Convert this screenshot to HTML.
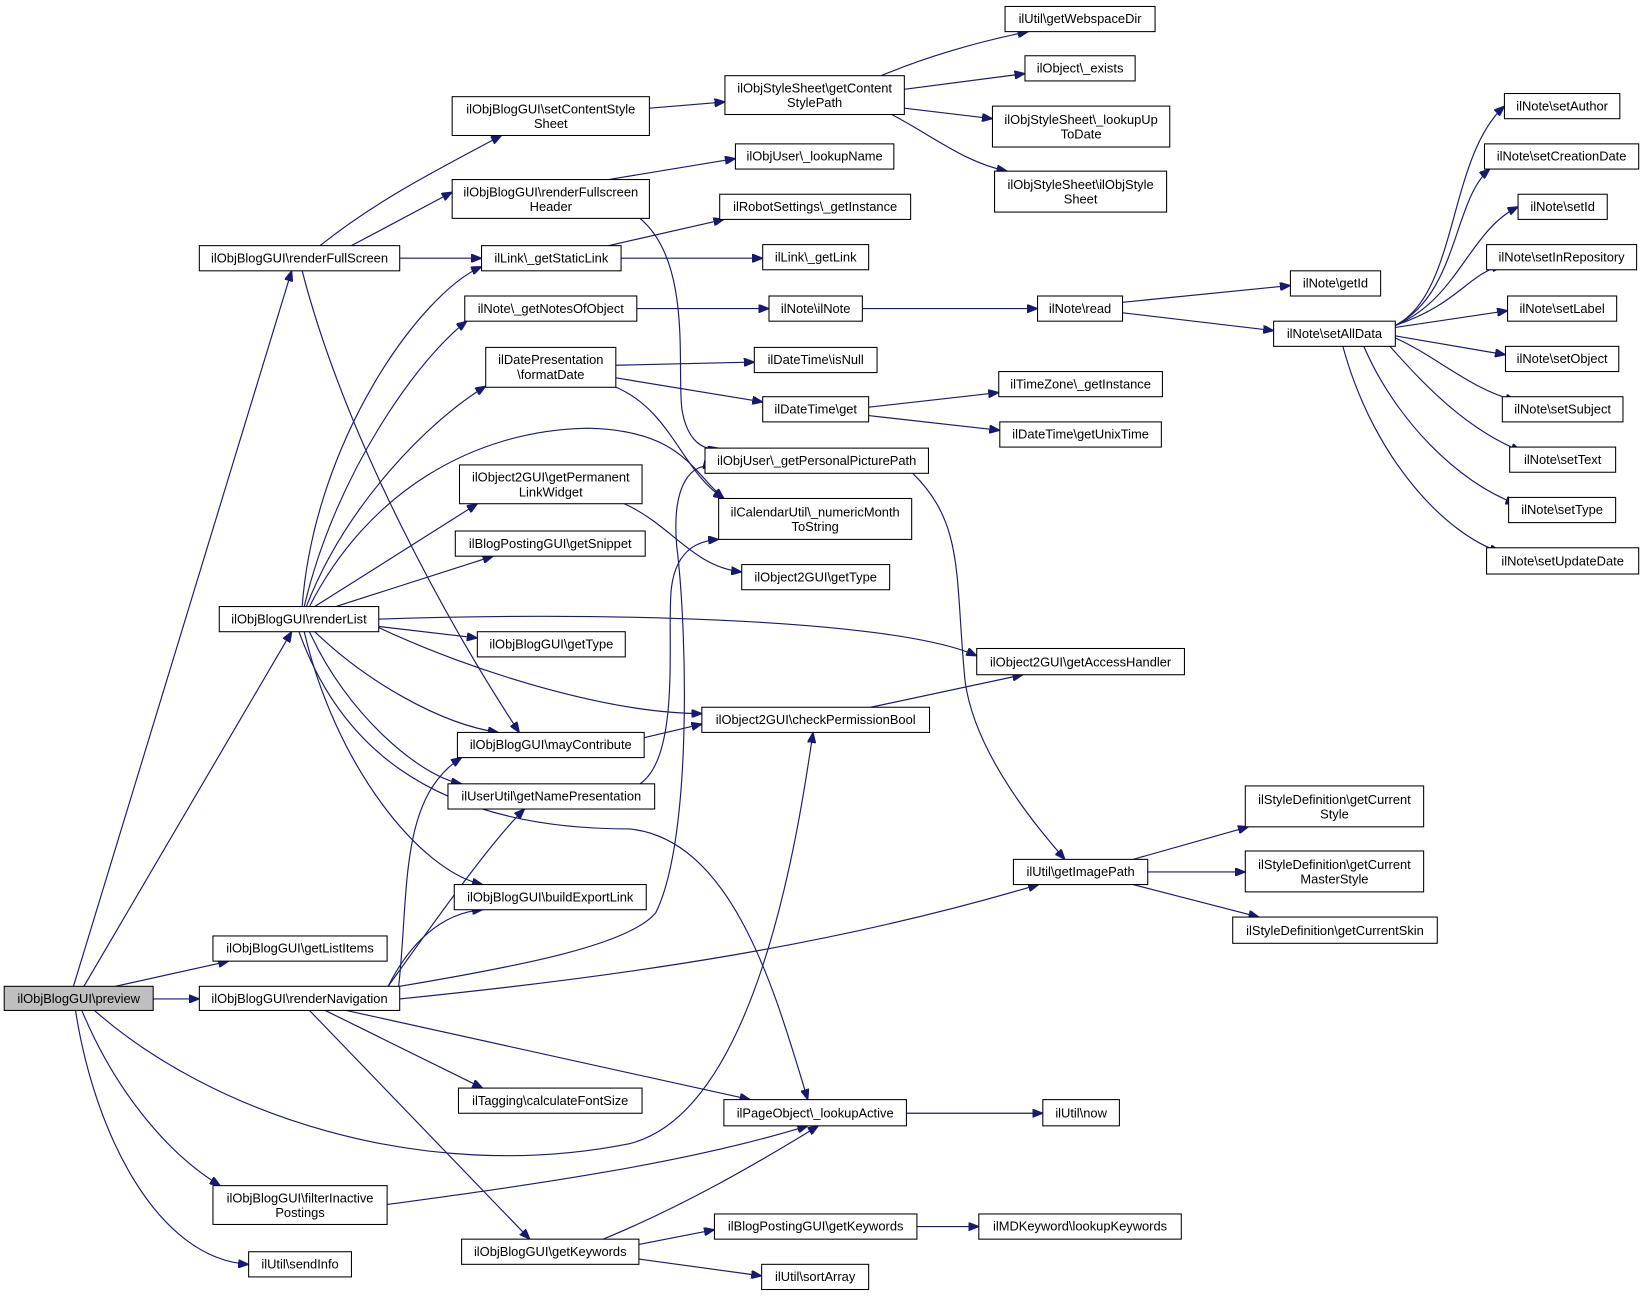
<!DOCTYPE html>
<html><head><meta charset="utf-8"><style>
html,body{margin:0;padding:0;background:#fff;}
svg{display:block;}
text{font-family:"Liberation Sans",sans-serif;font-size:12.3px;fill:#000;text-anchor:middle;}
rect{fill:#fff;stroke:#000;stroke-width:1;}
path{fill:none;stroke:#191970;stroke-width:1.1;}
</style></head><body>
<svg width="1645" height="1297" viewBox="0 0 1568 1236" xmlns="http://www.w3.org/2000/svg">
<defs><marker id="a" markerUnits="userSpaceOnUse" markerWidth="11" markerHeight="8" refX="10" refY="4" orient="auto"><path d="M0,0 L10,4 L0,8 Z" style="fill:#191970;stroke:#191970"/></marker></defs>
<g marker-end="url(#a)">
<path d="M70,940 L278,258"/>
<path d="M80,940 L278,602"/>
<path d="M110,940 L218,916"/>
<path d="M146,952 L190,952"/>
<path d="M90,963 C200,1060 400,1130 600,1090 C720,1060 760,800 775,698"/>
<path d="M78,963 C110,1040 160,1100 210,1130"/>
<path d="M72,963 C90,1080 150,1200 237,1205"/>
<path d="M305,234 C360,190 420,160 478,129"/>
<path d="M335,234 L431,183"/>
<path d="M381,246 L459,246"/>
<path d="M288,258 C330,420 430,600 495,698"/>
<path d="M288,578 C300,420 400,280 459,254"/>
<path d="M290,578 C320,450 400,340 445,306"/>
<path d="M292,578 C330,480 410,400 463,368"/>
<path d="M295,578 C350,470 450,410 560,408 C650,410 660,450 690,475"/>
<path d="M300,578 L455,480"/>
<path d="M320,578 L470,530"/>
<path d="M361,590 C550,583 850,588 931,625"/>
<path d="M361,597 L455,608"/>
<path d="M361,598 C450,640 580,680 669,680"/>
<path d="M300,602 C350,650 420,690 475,698"/>
<path d="M295,602 C330,680 400,740 440,747"/>
<path d="M290,602 C320,730 400,830 460,843"/>
<path d="M285,602 C320,700 400,790 600,790 C700,800 740,950 770,1048"/>
<path d="M380,940 C390,850 380,760 440,722"/>
<path d="M370,940 C420,870 470,800 500,771"/>
<path d="M370,940 C390,900 420,870 460,867"/>
<path d="M381,940 C500,920 600,900 625,870 C660,800 655,600 645,520 C640,460 660,440 680,445"/>
<path d="M381,952 C600,930 800,900 990,843"/>
<path d="M310,963 L460,1037"/>
<path d="M330,963 L715,1048"/>
<path d="M295,963 L505,1181"/>
<path d="M580,171 L701,151"/>
<path d="M610,208 C660,250 645,350 650,390 C655,420 670,430 685,427"/>
<path d="M580,234 L690,209"/>
<path d="M592,246 L727,246"/>
<path d="M607,294 L733,294"/>
<path d="M822,294 L989,294"/>
<path d="M1070,288 L1230,272"/>
<path d="M1070,298 L1214,315"/>
<path d="M587,348 L719,345"/>
<path d="M587,360 L727,383"/>
<path d="M585,368 C640,390 650,450 690,475"/>
<path d="M828,388 L952,374"/>
<path d="M828,396 L953,410"/>
<path d="M870,451 C920,500 910,550 920,650 C930,720 990,790 1015,819"/>
<path d="M595,480 C640,500 660,540 707,545"/>
<path d="M610,747 C650,720 635,600 640,560 C645,520 670,515 685,514"/>
<path d="M614,703 L669,690"/>
<path d="M830,674 L975,643"/>
<path d="M1080,819 L1190,788"/>
<path d="M1094,831 L1187,831"/>
<path d="M1080,843 L1200,874"/>
<path d="M864,1061 L994,1061"/>
<path d="M369,1148 C500,1130 650,1110 770,1073"/>
<path d="M575,1181 C650,1150 720,1110 780,1073"/>
<path d="M609,1186 L681,1172"/>
<path d="M609,1200 L726,1216"/>
<path d="M874,1169 L933,1169"/>
<path d="M619,103 L691,97"/>
<path d="M840,72 C880,55 930,40 980,30"/>
<path d="M862,85 L977,70"/>
<path d="M862,103 L946,113"/>
<path d="M850,109 C890,130 920,155 960,163"/>
<path d="M1330,310 C1390,280 1380,150 1434,101"/>
<path d="M1330,310 C1390,280 1385,190 1420,161"/>
<path d="M1330,310 C1390,285 1400,220 1447,197"/>
<path d="M1330,310 C1390,290 1400,260 1432,253"/>
<path d="M1330,312 L1437,296"/>
<path d="M1330,320 L1435,338"/>
<path d="M1330,322 C1370,340 1400,370 1445,382"/>
<path d="M1325,330 C1360,370 1400,410 1450,430"/>
<path d="M1300,330 C1330,400 1390,460 1445,480"/>
<path d="M1280,330 C1310,440 1380,510 1430,526"/>
</g>
<rect x="4" y="940" width="142" height="23" style="fill:#bfbfbf"/><text x="75" y="956">ilObjBlogGUI\preview</text>
<rect x="190" y="234" width="191" height="24"/><text x="285.5" y="250">ilObjBlogGUI\renderFullScreen</text>
<rect x="209" y="578" width="152" height="24"/><text x="285" y="594">ilObjBlogGUI\renderList</text>
<rect x="203" y="892" width="166" height="24"/><text x="286" y="908">ilObjBlogGUI\getListItems</text>
<rect x="190" y="940" width="191" height="23"/><text x="285.5" y="956">ilObjBlogGUI\renderNavigation</text>
<rect x="203" y="1130" width="166" height="37"/><text x="286" y="1146">ilObjBlogGUI\filterInactive</text><text x="286" y="1160">Postings</text>
<rect x="237" y="1193" width="98" height="24"/><text x="286" y="1209">ilUtil\sendInfo</text>
<rect x="431" y="92" width="188" height="37"/><text x="525" y="108">ilObjBlogGUI\setContentStyle</text><text x="525" y="122">Sheet</text>
<rect x="431" y="171" width="188" height="37"/><text x="525" y="187">ilObjBlogGUI\renderFullscreen</text><text x="525" y="201">Header</text>
<rect x="459" y="234" width="133" height="24"/><text x="525.5" y="250">ilLink\_getStaticLink</text>
<rect x="443" y="282" width="164" height="24"/><text x="525" y="298">ilNote\_getNotesOfObject</text>
<rect x="463" y="331" width="124" height="38"/><text x="525" y="347">ilDatePresentation</text><text x="525" y="361">\formatDate</text>
<rect x="438" y="443" width="174" height="37"/><text x="525" y="459">ilObject2GUI\getPermanent</text><text x="525" y="473">LinkWidget</text>
<rect x="434" y="506" width="181" height="24"/><text x="524.5" y="522">ilBlogPostingGUI\getSnippet</text>
<rect x="455" y="602" width="141" height="24"/><text x="525.5" y="618">ilObjBlogGUI\getType</text>
<rect x="436" y="698" width="178" height="24"/><text x="525" y="714">ilObjBlogGUI\mayContribute</text>
<rect x="427" y="747" width="197" height="24"/><text x="525.5" y="763">ilUserUtil\getNamePresentation</text>
<rect x="433" y="843" width="183" height="24"/><text x="524.5" y="859">ilObjBlogGUI\buildExportLink</text>
<rect x="437" y="1037" width="175" height="24"/><text x="524.5" y="1053">ilTagging\calculateFontSize</text>
<rect x="440" y="1181" width="169" height="24"/><text x="524.5" y="1197">ilObjBlogGUI\getKeywords</text>
<rect x="691" y="72" width="171" height="37"/><text x="776.5" y="88">ilObjStyleSheet\getContent</text><text x="776.5" y="102">StylePath</text>
<rect x="701" y="137" width="151" height="24"/><text x="776.5" y="153">ilObjUser\_lookupName</text>
<rect x="686" y="185" width="182" height="24"/><text x="777" y="201">ilRobotSettings\_getInstance</text>
<rect x="727" y="233" width="101" height="24"/><text x="777.5" y="249">ilLink\_getLink</text>
<rect x="733" y="282" width="89" height="24"/><text x="777.5" y="298">ilNote\ilNote</text>
<rect x="719" y="331" width="117" height="24"/><text x="777.5" y="347">ilDateTime\isNull</text>
<rect x="727" y="378" width="101" height="24"/><text x="777.5" y="394">ilDateTime\get</text>
<rect x="672" y="427" width="213" height="24"/><text x="778.5" y="443">ilObjUser\_getPersonalPicturePath</text>
<rect x="685" y="475" width="184" height="39"/><text x="777" y="492">ilCalendarUtil\_numericMonth</text><text x="777" y="506">ToString</text>
<rect x="707" y="538" width="141" height="24"/><text x="777.5" y="554">ilObject2GUI\getType</text>
<rect x="669" y="674" width="217" height="24"/><text x="777.5" y="690">ilObject2GUI\checkPermissionBool</text>
<rect x="690" y="1048" width="174" height="25"/><text x="777" y="1065">ilPageObject\_lookupActive</text>
<rect x="681" y="1157" width="193" height="24"/><text x="777.5" y="1173">ilBlogPostingGUI\getKeywords</text>
<rect x="726" y="1205" width="102" height="24"/><text x="777" y="1221">ilUtil\sortArray</text>
<rect x="958" y="6" width="143" height="24"/><text x="1029.5" y="22">ilUtil\getWebspaceDir</text>
<rect x="977" y="53" width="105" height="24"/><text x="1029.5" y="69">ilObject\_exists</text>
<rect x="946" y="101" width="169" height="39"/><text x="1030.5" y="118">ilObjStyleSheet\_lookupUp</text><text x="1030.5" y="132">ToDate</text>
<rect x="948" y="163" width="164" height="39"/><text x="1030" y="180">ilObjStyleSheet\ilObjStyle</text><text x="1030" y="194">Sheet</text>
<rect x="989" y="282" width="81" height="24"/><text x="1029.5" y="298">ilNote\read</text>
<rect x="952" y="354" width="156" height="24"/><text x="1030" y="370">ilTimeZone\_getInstance</text>
<rect x="953" y="402" width="154" height="24"/><text x="1030" y="418">ilDateTime\getUnixTime</text>
<rect x="931" y="618" width="198" height="25"/><text x="1030" y="635">ilObject2GUI\getAccessHandler</text>
<rect x="966" y="819" width="128" height="24"/><text x="1030" y="835">ilUtil\getImagePath</text>
<rect x="994" y="1048" width="73" height="25"/><text x="1030.5" y="1065">ilUtil\now</text>
<rect x="933" y="1157" width="193" height="24"/><text x="1029.5" y="1173">ilMDKeyword\lookupKeywords</text>
<rect x="1230" y="258" width="86" height="24"/><text x="1273" y="274">ilNote\getId</text>
<rect x="1214" y="306" width="116" height="24"/><text x="1272" y="322">ilNote\setAllData</text>
<rect x="1187" y="749" width="170" height="39"/><text x="1272" y="766">ilStyleDefinition\getCurrent</text><text x="1272" y="780">Style</text>
<rect x="1187" y="811" width="170" height="39"/><text x="1272" y="828">ilStyleDefinition\getCurrent</text><text x="1272" y="842">MasterStyle</text>
<rect x="1175" y="874" width="195" height="25"/><text x="1272.5" y="891">ilStyleDefinition\getCurrentSkin</text>
<rect x="1434" y="89" width="110" height="24"/><text x="1489" y="105">ilNote\setAuthor</text>
<rect x="1415" y="137" width="147" height="24"/><text x="1488.5" y="153">ilNote\setCreationDate</text>
<rect x="1447" y="185" width="85" height="24"/><text x="1489.5" y="201">ilNote\setId</text>
<rect x="1417" y="233" width="143" height="24"/><text x="1488.5" y="249">ilNote\setInRepository</text>
<rect x="1437" y="282" width="104" height="24"/><text x="1489" y="298">ilNote\setLabel</text>
<rect x="1435" y="330" width="108" height="24"/><text x="1489" y="346">ilNote\setObject</text>
<rect x="1432" y="378" width="115" height="24"/><text x="1489.5" y="394">ilNote\setSubject</text>
<rect x="1439" y="426" width="101" height="24"/><text x="1489.5" y="442">ilNote\setText</text>
<rect x="1438" y="474" width="102" height="24"/><text x="1489" y="490">ilNote\setType</text>
<rect x="1417" y="522" width="145" height="25"/><text x="1489.5" y="539">ilNote\setUpdateDate</text>
</svg>
</body></html>
